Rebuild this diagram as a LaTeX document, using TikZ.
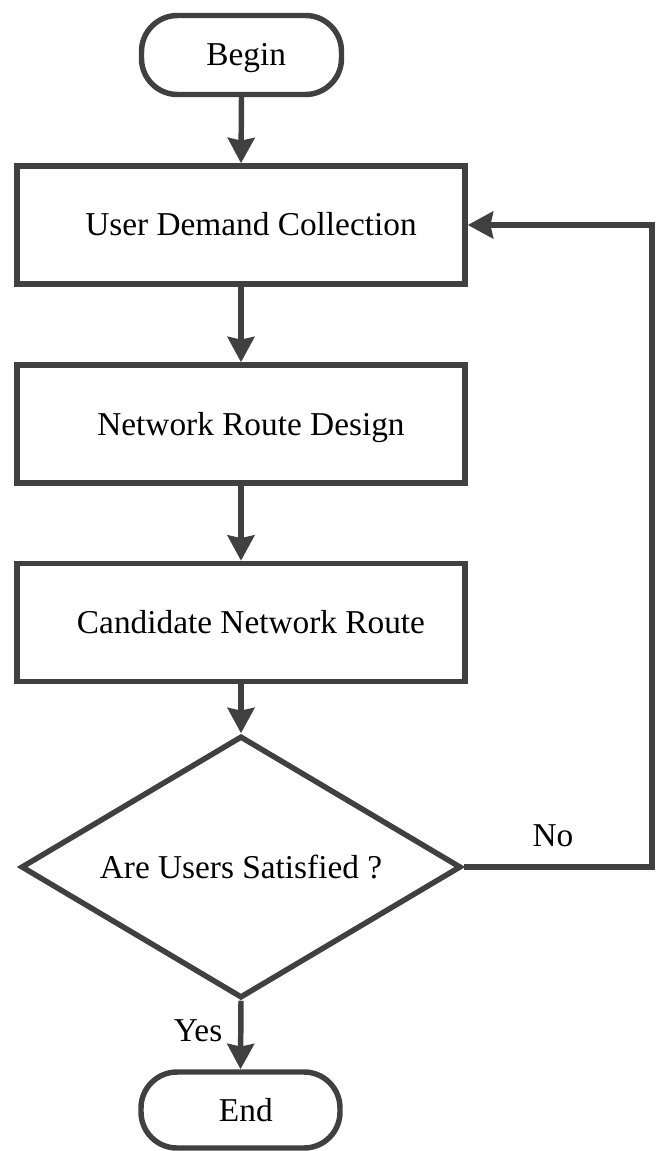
\documentclass[tikz,border=0pt]{standalone}
\usepackage{fontspec}
\setmainfont{Liberation Serif}
\usetikzlibrary{shapes.geometric,arrows.meta}
\definecolor{ln}{RGB}{64,64,64}
\begin{document}
\begin{tikzpicture}[x=0.75pt,y=-0.75pt,
  every node/.style={font=\fontsize{25}{30}\selectfont, text height=16.5pt, text depth=0pt, inner sep=0pt},
  proc/.style={draw=ln, line width=4.1pt, minimum width=336pt, minimum height=88.5pt},
  term/.style={draw=ln, line width=4.1pt, rounded corners=27pt},
  decis/.style={draw=ln, line width=4.1pt, diamond, minimum width=330pt, minimum height=196.5pt, shape aspect=1.68},
  arr/.style={draw=ln, line width=4.1pt, -{Stealth[length=19pt,width=20pt,inset=2pt]}}
]
\useasboundingbox (0,0) rectangle (659,1151);

\node[term, minimum width=150pt, minimum height=59.25pt] (begin) at (241.5,55) {\hspace*{7pt}Begin};
\node[proc] (b1) at (241,225) {\hspace*{15pt}User Demand Collection};
\node[proc] (b2) at (241,424) {\hspace*{15pt}Network Route Design};
\node[proc] (b3) at (241,622.5) {\hspace*{15pt}Candidate Network Route};
\node[decis] (dec) at (241,867) {Are Users Satisfied ?};
\node[term, minimum width=149.25pt, minimum height=57pt] (end) at (240.5,1110) {\hspace*{8pt}End};

\node (yes) at (198,1030) {Yes};
\node (no) at (553,835) {No};

\coordinate (turn) at (652,867);

\draw[arr] (begin.south) -- (b1.north);
\draw[arr] (b1.south) -- (b2.north);
\draw[arr] (b2.south) -- (b3.north);
\draw[arr] (b3.south) -- (dec.north);
\draw[arr] (dec.south) -- (end.north);
\draw[arr] (dec.east) -- (turn) |- (b1.east);
\end{tikzpicture}
\end{document}
